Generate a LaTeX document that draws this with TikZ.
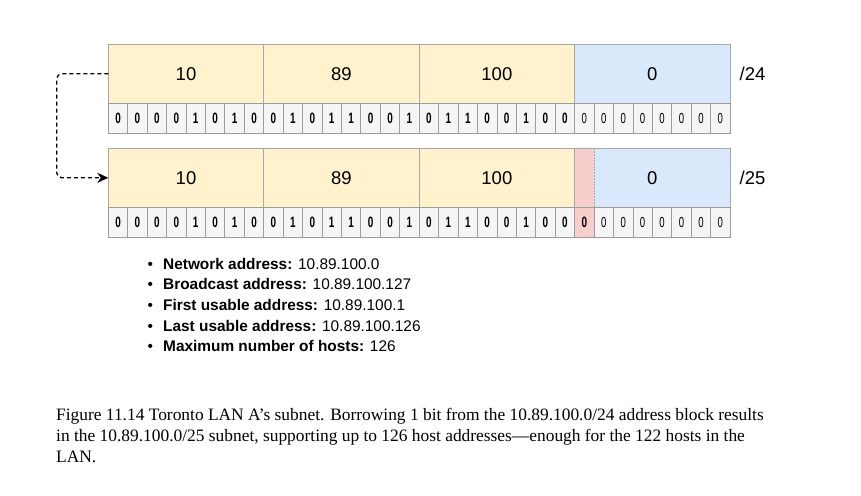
\documentclass[tikz,border=0pt]{standalone}
\usepackage{fontspec}
\setmainfont{Liberation Sans}
\newfontfamily\capfont{Liberation Serif}
\newfontfamily\bitfont[FakeStretch=0.66]{Liberation Sans}
\usetikzlibrary{arrows.meta}
\definecolor{octyellow}{HTML}{FFF2CC}
\definecolor{octblue}{HTML}{DAE8FC}
\definecolor{octpink}{HTML}{F8CECC}
\definecolor{bitfill}{HTML}{F5F5F5}
\definecolor{cellborder}{HTML}{A8A8A8}
\definecolor{bitborder}{HTML}{9C9C9C}
\tikzset{
  octet/.style={draw=cellborder, line width=0.8pt, minimum width=155.43pt, minimum height=59pt,
    inner sep=0pt, outer sep=0pt, anchor=north west, font=\fontsize{18.5}{18.5}\selectfont},
  bitcell/.style={draw=bitborder, fill=bitfill, line width=0.8pt, minimum width=19.43pt,
    minimum height=30.5pt, inner sep=0pt, outer sep=0pt, anchor=north west},
  netbit/.style={bitcell, font=\bitfont\fontsize{15}{15}\selectfont\bfseries},
  hostbit/.style={bitcell, font=\bitfont\fontsize{14.5}{14.5}\selectfont},
  prefixlabel/.style={anchor=west, inner sep=0pt, font=\fontsize{18.5}{18.5}\selectfont},
  bulletline/.style={anchor=base west, inner sep=0pt, font=\fontsize{15.4}{15.4}\selectfont},
  captionline/.style={anchor=base west, inner sep=0pt, font=\capfont\fontsize{17.4}{17.4}\selectfont},
  flowline/.style={dash pattern=on 4pt off 3pt, line width=1.3pt, rounded corners=5pt,
    -{Stealth[length=11pt,width=10pt]}}
}
\begin{document}
\begin{tikzpicture}[x=1pt,y=-1pt]
\useasboundingbox (0,0) rectangle (861,495);

% ---- block /24 ----
\node[octet, fill=octyellow] (t1) at (108.3,44.3) {10};
\node[octet, fill=octyellow] (t2) at (263.73,44.3) {89};
\node[octet, fill=octyellow] (t3) at (419.16,44.3) {100};
\node[octet, fill=octblue]   (t4) at (574.59,44.3) {0};
\foreach \b [count=\i from 0] in {0,0,0,0,1,0,1,0, 0,1,0,1,1,0,0,1, 0,1,1,0,0,1,0,0, 0,0,0,0,0,0,0,0} {
  \ifnum\i<24
    \node[netbit] (ta\i) at ({108.3+\i*19.43},103.3) {\b};
  \else
    \node[hostbit] (ta\i) at ({108.3+\i*19.43},103.3) {\b};
  \fi
}
\node[prefixlabel] (l24) at (739.5,74.3) {/24};

% ---- block /25 ----
\node[octet, fill=octyellow] (b1) at (108.3,148.3) {10};
\node[octet, fill=octyellow] (b2) at (263.73,148.3) {89};
\node[octet, fill=octyellow] (b3) at (419.16,148.3) {100};
\node[octet, fill=octblue, draw=none] (b4) at (574.59,148.3) {0};
\node[fill=octpink, minimum width=19.43pt, minimum height=59pt, inner sep=0pt, outer sep=0pt,
  anchor=north west] (bp) at (574.59,148.3) {};
\draw[cellborder, line width=0.8pt] (b4.north west) rectangle (b4.south east);
\draw[cellborder, line width=0.8pt, dash pattern=on 1.5pt off 1.5pt] (bp.north east) -- (bp.south east);
\foreach \b [count=\i from 0] in {0,0,0,0,1,0,1,0, 0,1,0,1,1,0,0,1, 0,1,1,0,0,1,0,0, 0,0,0,0,0,0,0,0} {
  \ifnum\i<24
    \node[netbit] (ba\i) at ({108.3+\i*19.43},207.3) {\b};
  \else
    \ifnum\i=24
      \node[netbit, fill=octpink] (ba\i) at ({108.3+\i*19.43},207.3) {\b};
    \else
      \node[hostbit] (ba\i) at ({108.3+\i*19.43},207.3) {\b};
    \fi
  \fi
}
\node[prefixlabel] (l25) at (739.5,177.8) {/25};

% ---- dashed connector ----
\draw[flowline] (t1.west) -- ++(-51.6,0) |- (b1.west);

% ---- bullet list ----
\node[bulletline] (n1) at (147.5,269)   {\makebox[15.5pt][l]{•}\textbf{Network address:} 10.89.100.0};
\node[bulletline] (n2) at (147.5,289.7) {\makebox[15.5pt][l]{•}\textbf{Broadcast address:} 10.89.100.127};
\node[bulletline] (n3) at (147.5,310.4) {\makebox[15.5pt][l]{•}\textbf{First usable address:} 10.89.100.1};
\node[bulletline] (n4) at (147.5,331.1) {\makebox[15.5pt][l]{•}\textbf{Last usable address:} 10.89.100.126};
\node[bulletline] (n5) at (147.5,351.8) {\makebox[15.5pt][l]{•}\textbf{Maximum number of hosts:} 126};

% ---- caption ----
\node[captionline] (c1) at (56,420)   {Figure 11.14 Toronto LAN A’s subnet. Borrowing 1 bit from the 10.89.100.0/24 address block results};
\node[captionline] (c2) at (56,441) {in the 10.89.100.0/25 subnet, supporting up to 126 host addresses—enough for the 122 hosts in the};
\node[captionline] (c3) at (56,462) {LAN.};
\end{tikzpicture}
\end{document}
